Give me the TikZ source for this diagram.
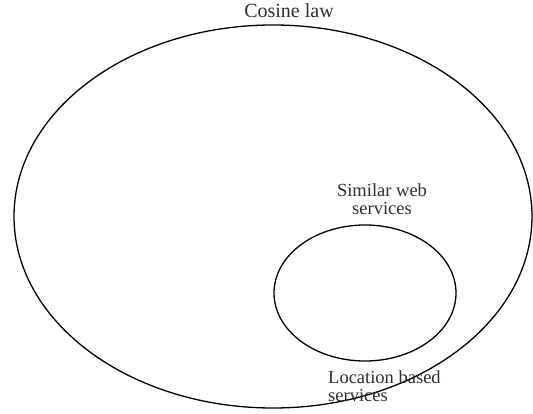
\documentclass[tikz,border=0pt]{standalone}
\usepackage{fontspec}
\setmainfont{Liberation Serif}
\usetikzlibrary{shapes.geometric}
\definecolor{txt}{RGB}{45,45,45}
\begin{document}
\begin{tikzpicture}[x=1pt,y=1pt,
  setring/.style={draw=black, line width=1.3pt, ellipse, inner sep=0pt},
  lbl/.style={text=txt, inner sep=0pt, font=\fontsize{18.5}{18.5}\selectfont}]
\useasboundingbox (0,0) rectangle (533,413);
\node[setring, minimum width=518pt, minimum height=383pt] (cosine) at (273,196.5) {};
\node[setring, minimum width=182pt, minimum height=136pt] (similar) at (365,120) {};
\node[lbl, anchor=base, font=\fontsize{20}{22}\selectfont] (tcos) at (289,395) {Cosine law};
\node[lbl, anchor=base, align=center] (tsim) at (382,198) {Similar web\\services};
\node[lbl, anchor=base west, align=left, font=\fontsize{18.5}{18}\selectfont] (tloc) at (328,12) {Location based\\services};
\end{tikzpicture}
\end{document}
